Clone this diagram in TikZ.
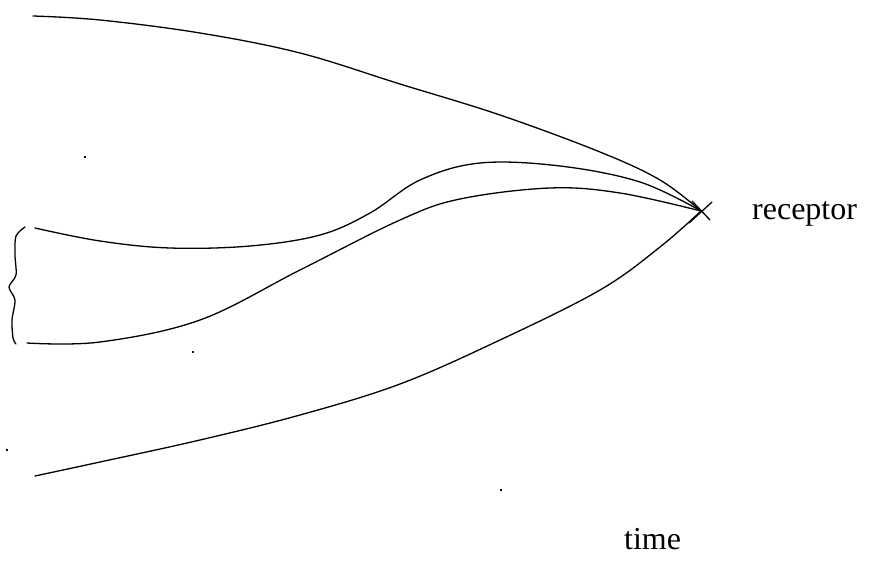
\documentclass[tikz,border=0pt]{standalone}
\usepackage{fontspec}
\setmainfont{Liberation Serif}
\begin{document}
\begin{tikzpicture}[x=1pt,y=-1pt,
  curve/.style={line width=1.3pt,line join=round,line cap=round},
  lbl/.style={font=\fontsize{32}{36}\selectfont,anchor=base west,inner sep=0pt},
  speck/.style={fill=black,inner sep=0pt,minimum size=2.5pt,shape=rectangle}]
\useasboundingbox (0,0) rectangle (878,570);
\coordinate (r) at (701,211);
\draw[curve] plot[smooth,tension=0.6] coordinates {(33,16) (100,20) (200,33) (300,53) (400,84) (500,115) (600,152) (660,180) (r)};
\draw[curve] plot[smooth,tension=0.6] coordinates {(35,228) (100,241) (170,248) (250,246) (320,235) (370,213) (420,180) (480,163) (560,166) (640,182) (r)};
\draw[curve] plot[smooth,tension=0.6] coordinates {(27,343) (100,342) (200,320) (300,270) (400,220) (460,199) (550,188) (620,193) (r)};
\draw[curve] plot[smooth,tension=0.6] coordinates {(35,476) (100,462) (200,440) (300,415) (400,384) (500,340) (600,290) (660,247) (r)};
\draw[curve] plot[smooth,tension=0.5] coordinates {(25,227) (16,236) (15,255) (16,275) (9,287) (15,300) (12,320) (13,338) (16,344)};
\draw[curve] (689,223) -- (712,202);
\draw[curve] (692,201) -- (710,220);
\node[lbl] (rec) at (752,219) {receptor};
\node[lbl] (time) at (624,549) {time};
\node[speck] (d1) at (85,157) {};
\node[speck] (d2) at (193,352) {};
\node[speck] (d3) at (501,490) {};
\node[speck] (d4) at (7,450) {};
\end{tikzpicture}
\end{document}
